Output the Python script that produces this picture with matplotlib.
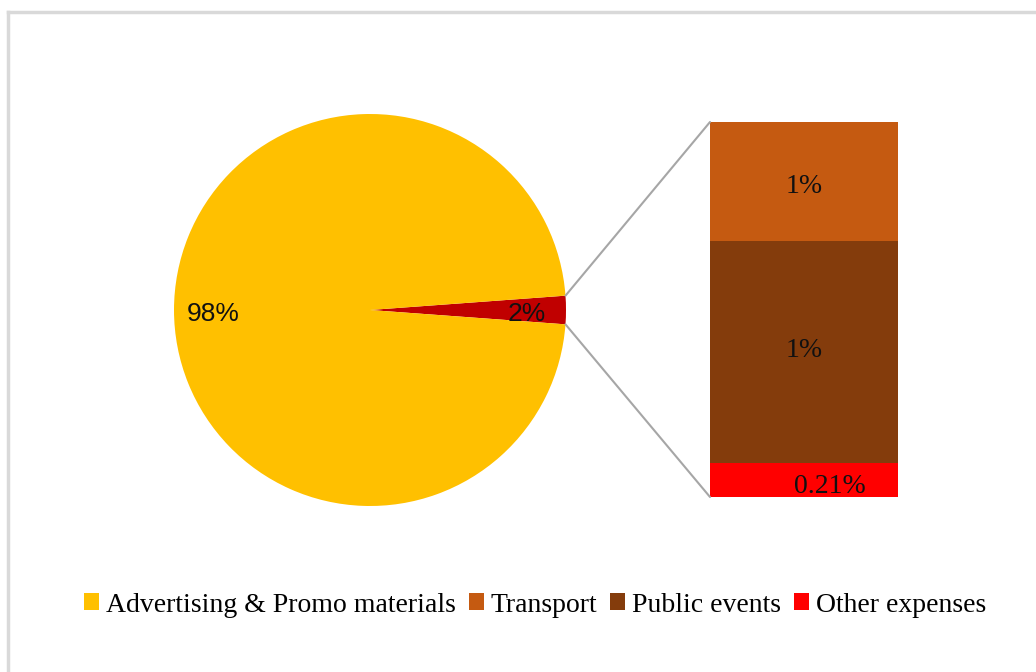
import matplotlib
matplotlib.use("Agg")
import matplotlib.pyplot as plt
from matplotlib.patches import ConnectionPatch, Patch
from matplotlib.lines import Line2D
import numpy as np

# data (% of budget)
pie_labels = ["Advertising & Promo materials", "Other costs"]
pie_values = [97.67, 2.33]
pie_colors = ["#FFC000", "#C00000"]

bar_labels = ["Other expenses", "Public events", "Transport"]   # bottom -> top
bar_values = [0.21, 1.38, 0.74]
bar_colors = ["#FF0000", "#843C0C", "#C55A11"]

legend_labels = ["Advertising & Promo materials", "Transport", "Public events", "Other expenses"]
legend_colors = ["#FFC000", "#C55A11", "#843C0C", "#FF0000"]

fig = plt.figure(figsize=(10.36, 6.72), dpi=100)
W, H = 1036, 672

# pie
ax1 = fig.add_axes([174 / W, (672 - 506) / H, 392 / W, 392 / H])
small_angle = pie_values[1] / sum(pie_values) * 360
wedges, texts, autotexts = ax1.pie(
    pie_values[::-1], colors=pie_colors[::-1], startangle=-small_angle / 2,
    autopct="%1.0f%%", pctdistance=0.8, radius=1,
    textprops=dict(fontsize=19, family="Liberation Sans", color="#111111"))
for t in autotexts:
    x, y = t.get_position()
    t.set_position((x, y - 0.02))
ax1.set_xlim(-1, 1)
ax1.set_ylim(-1, 1)
ax1.axis("off")

# bar of the small slice
ax2 = fig.add_axes([710 / W, (672 - 497) / H, 188 / W, 375 / H])
bottom = 0
for v, c, lab in zip(bar_values, bar_colors, bar_labels):
    ax2.bar(0, v, width=1, bottom=bottom, color=c, label=lab)
    if v < 0.5:
        ax2.text(0.14, bottom + v / 2 - 0.04, f"{v:.2f}%", ha="center", va="center",
                 fontsize=20, family="Liberation Serif", color="#111111")
    else:
        ax2.text(0, bottom + v / 2 + (0.01 if v > 1 else -0.03), f"{v:.0f}%", ha="center", va="center",
                 fontsize=20, family="Liberation Serif", color="#111111")
    bottom += v
ax2.set_xlim(-0.5, 0.5)
ax2.set_ylim(0, bottom)
ax2.axis("off")

# connector lines
th = np.deg2rad(small_angle / 2)
for sgn, yb in [(1, bottom), (-1, 0)]:
    con = ConnectionPatch(xyA=(-0.5, yb), coordsA=ax2.transData,
                          xyB=(np.cos(th), sgn * np.sin(th)), coordsB=ax1.transData,
                          color="#A6A6A6", linewidth=1.5)
    fig.add_artist(con)

# legend
handles = [Patch(facecolor=c, edgecolor="none") for c in legend_colors]
fig.legend(handles, legend_labels, loc="center", bbox_to_anchor=(535 / W, 1 - 605 / H),
           ncol=4, frameon=False, handlelength=0.55, handleheight=0.55,
           handletextpad=0.25, columnspacing=0.45,
           prop=dict(family="Liberation Serif", size=20))

# chart frame
fig.add_artist(Line2D([8 / W, 8 / W], [0, 1 - 12 / H], color="#D9D9D9", linewidth=2.5))
fig.add_artist(Line2D([8 / W, 1], [1 - 12 / H, 1 - 12 / H], color="#D9D9D9", linewidth=2.5))

fig.savefig("out.png", dpi=100)
